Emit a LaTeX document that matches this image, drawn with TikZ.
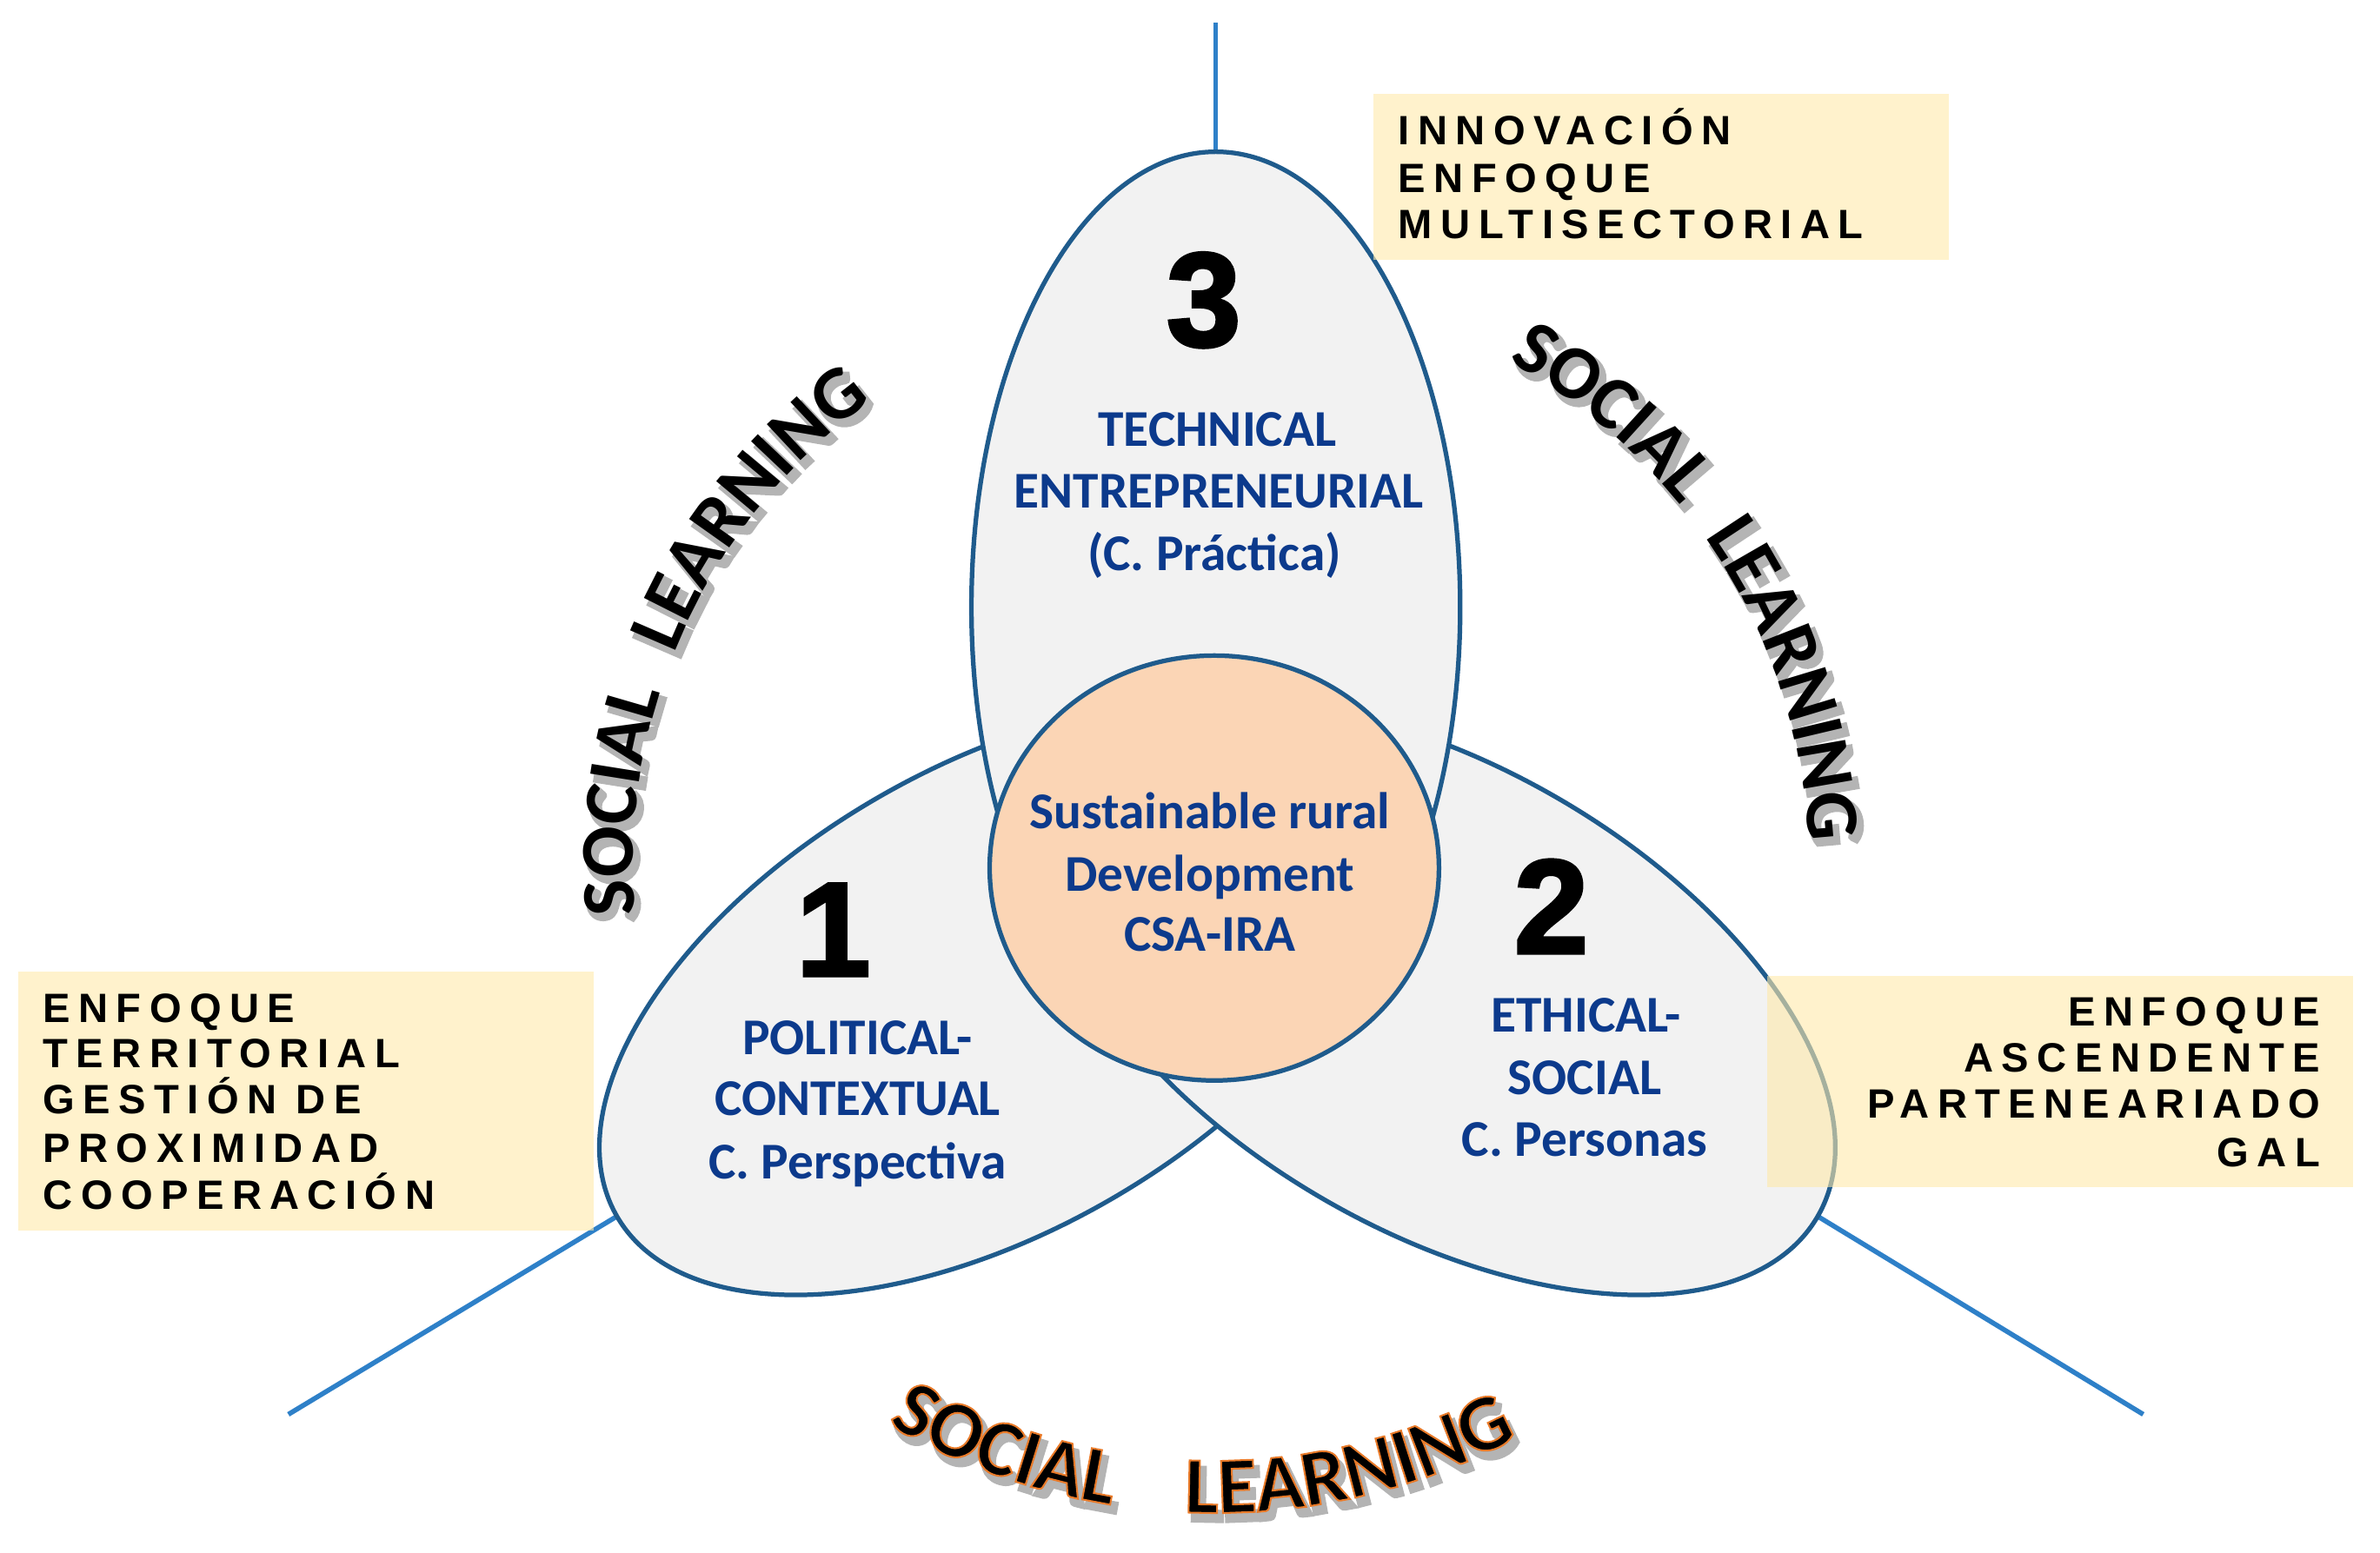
\documentclass[tikz,border=0pt]{standalone}
\usepackage{fontspec}
\setmainfont{Liberation Sans}
\newfontfamily\calb{Carlito Bold}
\newfontfamily\numfont{Liberation Sans Bold}[FakeBold=2.5]
\newfontfamily\boxfont{Liberation Sans Bold}[LetterSpace=20]
\newfontfamily\slfont{Carlito Bold}
\newfontfamily\slfontE{Carlito Bold}[FakeBold=2.2]
\newfontfamily\slfontS{Carlito Bold}[FakeBold=6]
\newcommand\slSide{\slfont\fontsize{25}{30}\selectfont}
\newcommand\slSideS{\slfontS\fontsize{25}{30}\selectfont}
\newcommand\slBot{\slfontE\fontsize{26.5}{31}\selectfont\color{black}\special{pdf:literal direct 0.91 0.48 0.16 RG}}
\newcommand\slBotS{\slfontS\fontsize{26.5}{31}\selectfont}
\usetikzlibrary{shapes.geometric,decorations.text,backgrounds}

\definecolor{ellfill}{HTML}{F2F2F2}
\definecolor{ellline}{RGB}{31,91,140}
\definecolor{conline}{RGB}{46,128,200}
\definecolor{peach}{HTML}{FBD5B5}
\definecolor{txtblue}{RGB}{12,58,140}
\definecolor{boxfill}{RGB}{255,233,170}
\definecolor{slshadow}{RGB}{180,180,180}

\begin{document}
\begin{tikzpicture}[x=0.5pt,y=0.5pt,
  petal/.style={ellipse, draw=ellline, fill=ellfill, line width=1.5pt, inner sep=0pt, outer sep=0pt},
  hub/.style={ellipse, draw=ellline, fill=peach, line width=1.5pt, inner sep=0pt, outer sep=0pt},
  connector/.style={draw=conline, line width=1.6pt},
  bluetxt/.style={font=\calb\fontsize{17}{20}\selectfont, text=txtblue, anchor=base, inner sep=0pt},
  numtxt/.style={font=\numfont\fontsize{44}{50}\selectfont, anchor=base, inner sep=0pt},
  yellowbox/.style={fill=boxfill, fill opacity=0.6},
  boxtxt/.style={font=\boxfont\fontsize{13.5}{16}\selectfont, inner sep=0pt},
  slpath/.style={decorate, decoration={text along path, text align=center}},
  slshade/.style={decorate, decoration={text along path, text align=center, text color=slshadow}},
]
\useasboundingbox (0,0) rectangle (1568,-1023);

% petals and hub
\node[petal, minimum width=153pt, minimum height=287pt, rotate=120] (e1) at (655,-658) {};
\node[petal, minimum width=153pt, minimum height=287pt, rotate=-120] (e2) at (949,-658) {};
\node[petal, minimum width=161pt, minimum height=300pt] (e3) at (801,-400) {};
\node[hub, minimum width=148pt, minimum height=140pt] (hub) at (800,-572) {};

% connectors
\coordinate (topend) at (801,-15);
\coordinate (leftend) at (190,-932);
\coordinate (rightend) at (1412,-932);
\begin{scope}[on background layer]
\draw[connector] (topend) -- (e3.north);
\draw[connector] (leftend) -- (e1.north);
\draw[connector] (rightend) -- (e2.north);
\end{scope}

% numbers
\node[numtxt] (n3) at (793,-228) {3};
\node[numtxt] (n1) at (549,-643) {1};
\node[numtxt] (n2) at (1022,-628) {2};

% blue texts
\node[bluetxt] (t3a) at (802,-294) {TECHNICAL};
\node[bluetxt] (t3b) at (803,-335) {ENTREPRENEURIAL};
\node[bluetxt] (t3c) at (800,-376) {(C. Práctica)};
\node[bluetxt] (ca) at (797,-546) {Sustainable rural};
\node[bluetxt] (cb) at (797,-587) {Development};
\node[bluetxt] (cc) at (797,-627) {CSA-IRA};
\node[bluetxt] (t1a) at (565,-695) {POLITICAL-};
\node[bluetxt] (t1b) at (565,-735) {CONTEXTUAL};
\node[bluetxt] (t1c) at (565,-777) {C. Perspectiva};
\node[bluetxt] (t2a) at (1045,-680) {ETHICAL-};
\node[bluetxt] (t2b) at (1044,-721) {SOCIAL};
\node[bluetxt] (t2c) at (1044,-762) {C. Personas};

% yellow boxes
\fill[yellowbox] (905,-62) rectangle (1284,-171);
\fill[yellowbox] (12,-640) rectangle (391,-811);
\fill[yellowbox] (1164,-643) rectangle (1550,-782);

\node[boxtxt, anchor=base west] (b1a) at (921,-95.5) {INNOVACIÓN};
\node[boxtxt, anchor=base west] (b1b) at (921,-127) {ENFOQUE};
\node[boxtxt, anchor=base west] (b1c) at (921,-157) {MULTISECTORIAL};

\node[boxtxt, anchor=base west] (b2a) at (28,-674) {ENFOQUE};
\node[boxtxt, anchor=base west] (b2b) at (28,-703.5) {TERRITORIAL};
\node[boxtxt, anchor=base west] (b2c) at (28,-734) {GESTIÓN DE};
\node[boxtxt, anchor=base west] (b2d) at (28,-766) {PROXIMIDAD};
\node[boxtxt, anchor=base west] (b2e) at (28,-797) {COOPERACIÓN};

\node[boxtxt, anchor=base east] (b3a) at (1529,-676) {ENFOQUE};
\node[boxtxt, anchor=base east] (b3b) at (1529,-706.5) {ASCENDENTE};
\node[boxtxt, anchor=base east] (b3c) at (1529,-737) {PARTENEARIADO};
\node[boxtxt, anchor=base east] (b3d) at (1529,-769) {GAL};

% SOCIAL LEARNING arcs
\coordinate (ctrL) at (797,-572);
\coordinate (ctrR) at (812,-572);
\coordinate (ctrB) at (800,-572);
\coordinate (ctrLs) at (800,-576);
\coordinate (ctrRs) at (815,-576);
\coordinate (ctrBs) at (803,-577);
% shadows
\path[slshade, decoration={text={|\slSideS|SOCIAL}}] (ctrLs) ++(193.4:380) arc[start angle=193.4, end angle=153.4, radius=380];
\path[slshade, decoration={text={|\slSideS|LEARNING}}] (ctrLs) ++(167:380) arc[start angle=167, end angle=117, radius=380];
\path[slshade, decoration={text={|\slSideS|SOCIAL}}] (ctrRs) ++(70.2:380) arc[start angle=70.2, end angle=30.2, radius=380];
\path[slshade, decoration={text={|\slSideS|LEARNING}}] (ctrRs) ++(43.8:380) arc[start angle=43.8, end angle=-6.2, radius=380];
\path[slshade, decoration={text={|\slBotS|SOCIAL}}] (ctrBs) ++(-129.8:425) arc[start angle=-129.8, end angle=-89.8, radius=425];
\path[slshade, decoration={text={|\slBotS|LEARNING}}] (ctrBs) ++(-102.3:425) arc[start angle=-102.3, end angle=-52.3, radius=425];
% left
\path[slpath, decoration={text={|\slSide|SOCIAL}}] (ctrL) ++(193.4:380) arc[start angle=193.4, end angle=153.4, radius=380];
\path[slpath, decoration={text={|\slSide|LEARNING}}] (ctrL) ++(167:380) arc[start angle=167, end angle=117, radius=380];
% right
\path[slpath, decoration={text={|\slSide|SOCIAL}}] (ctrR) ++(70.2:380) arc[start angle=70.2, end angle=30.2, radius=380];
\path[slpath, decoration={text={|\slSide|LEARNING}}] (ctrR) ++(43.8:380) arc[start angle=43.8, end angle=-6.2, radius=380];
% bottom
\path[slpath, decoration={text={|\slBot|SOCIAL}}] (ctrB) ++(-129.8:425) arc[start angle=-129.8, end angle=-89.8, radius=425];
\path[slpath, decoration={text={|\slBot|LEARNING}}] (ctrB) ++(-102.3:425) arc[start angle=-102.3, end angle=-52.3, radius=425];
\end{tikzpicture}
\end{document}
